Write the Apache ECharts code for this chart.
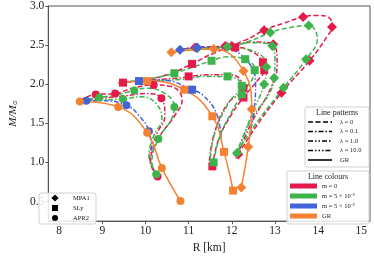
<!DOCTYPE html>
<html><head><meta charset="utf-8">
<script src="https://cdn.jsdelivr.net/npm/echarts@6/dist/echarts.min.js"></script>
<style>html,body{margin:0;padding:0;background:#fff}#c{width:374px;height:259px}</style>
</head><body><div id="c"></div>
<script>
// ---- tick labels ----
const xTicks = [8, 9, 10, 11, 12, 13, 14, 15];
const yTicks = [0.5, 1.0, 1.5, 2.0, 2.5, 3.0];

// ---- MPA1 (diamonds) ----
const mpa1_gr = [[12.22,0.68],[12.38,1.20],[12.46,1.68],[12.27,2.17],[11.58,2.45],[10.60,2.41]];
const mpa1_gr_mk = [[12.22,0.68],[12.38,1.20],[12.46,1.68],[12.27,2.17],[11.58,2.45],[10.60,2.41]];
const mpa1_blue = [[12.40,1.30],[12.52,1.70],[12.55,2.00],[12.35,2.30],[11.80,2.46],[11.20,2.47],[10.80,2.44]];
const mpa1_blue_mk = [[11.20,2.47],[10.80,2.44]];
const mpa1_red0 = [[12.15,1.10],[12.55,1.45],[13.15,1.89],[13.80,2.30],[14.22,2.62],[14.32,2.73],[14.25,2.85],[14.00,2.88],[13.65,2.86],[13.20,2.78],[12.75,2.69],[12.30,2.56],[11.85,2.49],[11.15,2.47],[10.70,2.43]];
const mpa1_red0_mk = [[12.15,1.10],[13.15,1.89],[13.80,2.30],[14.32,2.73],[13.65,2.86],[12.75,2.69],[11.85,2.49],[11.15,2.47]];
const mpa1_green0 = [[12.12,1.12],[12.50,1.45],[13.20,1.955],[13.72,2.32],[13.98,2.58],[13.78,2.75],[13.30,2.72],[12.89,2.66],[12.40,2.55],[11.90,2.48],[11.20,2.46],[10.70,2.44]];
const mpa1_green0_mk = [[12.12,1.12],[13.20,1.955],[13.72,2.32],[13.78,2.75],[12.89,2.66],[11.90,2.48],[11.20,2.46]];
const mpa1_red1 = [[12.10,1.05],[12.45,1.50],[12.90,1.95],[13.05,2.25],[12.96,2.51],[12.50,2.54],[12.00,2.49],[11.40,2.46]];
const mpa1_red1_mk = [[12.96,2.51],[12.00,2.49]];
const mpa1_green1 = [[12.08,1.08],[12.40,1.50],[12.98,2.08],[13.00,2.30],[12.94,2.49],[12.45,2.53],[11.95,2.48],[11.40,2.46]];
const mpa1_green1_mk = [[12.98,2.08],[12.94,2.49]];
const mpa1_green2 = [[12.15,1.15],[12.45,1.60],[12.75,2.00],[12.80,2.22],[12.60,2.40],[12.00,2.47]];
const mpa1_green2_mk = [[12.75,2.00],[12.80,2.22]];

// ---- SLy (squares) ----
const sly_gr = [[12.03,0.64],[11.82,1.135],[11.55,1.59],[10.90,1.93],[10.04,2.04],[9.36,2.02]];
const sly_gr_mk = [[12.03,0.64],[11.82,1.135],[11.55,1.59],[10.90,1.93],[10.04,2.04]];
const sly_blue = [[11.75,1.30],[11.65,1.62],[11.35,1.85],[11.08,1.93],[10.40,2.05],[9.85,2.04],[9.50,2.03]];
const sly_blue_mk = [[11.08,1.93],[9.85,2.04]];
const sly_red0 = [[11.55,0.95],[11.70,1.30],[12.00,1.62],[12.27,1.83],[12.60,2.05],[12.75,2.18],[12.72,2.28],[12.45,2.42],[12.08,2.47],[11.60,2.40],[11.08,2.26],[10.50,2.12],[9.90,2.05],[9.48,2.02]];
const sly_red0_mk = [[11.55,0.95],[12.27,1.83],[12.75,2.18],[12.72,2.28],[12.08,2.47],[11.08,2.26],[9.48,2.02]];
const sly_green0 = [[11.58,1.00],[11.72,1.33],[12.00,1.65],[12.23,1.87],[12.53,2.18],[12.31,2.32],[11.90,2.35],[11.53,2.30],[11.00,2.20],[10.67,2.14],[10.10,2.07],[9.50,2.03]];
const sly_green0_mk = [[11.58,1.00],[12.23,1.87],[12.53,2.18],[12.31,2.32],[11.53,2.30],[10.67,2.14]];
const sly_red1 = [[11.48,1.02],[11.60,1.38],[11.90,1.75],[12.27,1.95],[12.00,2.12],[11.45,2.12],[10.80,2.08],[10.00,2.05]];
const sly_red1_mk = [[12.27,1.95],[11.00,2.10]];
const sly_green1 = [[11.50,1.05],[11.62,1.40],[11.95,1.78],[12.23,1.98],[11.90,2.10],[11.40,2.10],[10.80,2.06],[10.00,2.04]];
const sly_green1_mk = [[12.23,1.98],[11.90,2.10]];

// ---- APR2 (circles) ----
const apr2_gr = [[10.81,0.507],[10.38,0.93],[10.04,1.38],[9.37,1.71],[8.48,1.78]];
const apr2_gr_mk = [[10.81,0.507],[10.38,0.93],[10.04,1.38],[9.37,1.71],[8.48,1.78]];
const apr2_blue = [[10.15,1.15],[10.08,1.40],[9.85,1.60],[9.56,1.73],[9.00,1.79],[8.63,1.79]];
const apr2_blue_mk = [[10.08,1.40],[9.56,1.73],[8.63,1.79]];
const apr2_red0 = [[10.28,0.82],[10.12,1.00],[10.32,1.32],[10.68,1.60],[10.85,1.80],[10.60,1.97],[10.19,1.99],[9.70,1.95],[9.30,1.88],[8.85,1.87],[8.50,1.80]];
const apr2_red0_mk = [[10.28,0.82],[10.19,1.99],[9.30,1.88],[8.85,1.87]];
const apr2_green0 = [[10.25,0.85],[10.15,1.00],[10.30,1.30],[10.60,1.55],[10.67,1.71],[10.45,1.88],[10.00,1.95],[9.74,1.92],[9.30,1.86],[8.93,1.83],[8.50,1.79]];
const apr2_green0_mk = [[10.25,0.85],[10.30,1.30],[10.67,1.71],[9.74,1.92],[8.93,1.83]];
const apr2_red1 = [[10.20,0.90],[10.10,1.05],[10.25,1.35],[10.45,1.60],[10.37,1.82],[10.00,1.88],[9.52,1.85],[9.00,1.82],[8.55,1.79]];
const apr2_red1_mk = [[10.37,1.82]];
const apr2_green1 = [[10.18,0.92],[10.08,1.08],[10.20,1.35],[10.38,1.55],[10.25,1.75],[9.90,1.84],[9.48,1.81],[9.00,1.80],[8.55,1.79]];
const apr2_green1_mk = [[9.48,1.81]];

// ---- styles ----
const C = {red:'#e6194b', green:'#3cb44b', blue:'#4363d8', orange:'#f58231'};
const DASH = {l0:[5,2.5], l01:[5,2,1.5,2], l1:[5,2,1.5,2,1.5,2], l10:[5,2,1.5,2,1.5,2,1.5,2], gr:'solid'};
const SYM = {mpa1:['diamond',10], sly:['rect',8], apr2:['circle',8]};

const series = [];
function add(line, marks, color, dash, eos) {
  series.push({type:'line', data:line, smooth:0.45, showSymbol:false, symbol:'none',
    lineStyle:{color:color, width:1.5, type:dash}, z:2, silent:true, animation:false});
  series.push({type:'scatter', data:marks, symbol:SYM[eos][0], symbolSize:SYM[eos][1],
    itemStyle:{color:color, opacity:1}, z:3, silent:true, animation:false});
}
// red, then green, then blue, then orange (drawing order)
add(mpa1_red0, mpa1_red0_mk, C.red, DASH.l0, 'mpa1');
add(mpa1_red1, mpa1_red1_mk, C.red, DASH.l01, 'mpa1');
add(sly_red0, sly_red0_mk, C.red, DASH.l0, 'sly');
add(sly_red1, sly_red1_mk, C.red, DASH.l01, 'sly');
add(apr2_red0, apr2_red0_mk, C.red, DASH.l0, 'apr2');
add(apr2_red1, apr2_red1_mk, C.red, DASH.l01, 'apr2');
add(mpa1_green0, mpa1_green0_mk, C.green, DASH.l0, 'mpa1');
add(mpa1_green1, mpa1_green1_mk, C.green, DASH.l01, 'mpa1');
add(mpa1_green2, mpa1_green2_mk, C.green, DASH.l1, 'mpa1');
add(sly_green0, sly_green0_mk, C.green, DASH.l0, 'sly');
add(sly_green1, sly_green1_mk, C.green, DASH.l01, 'sly');
add(apr2_green0, apr2_green0_mk, C.green, DASH.l0, 'apr2');
add(apr2_green1, apr2_green1_mk, C.green, DASH.l01, 'apr2');
add(mpa1_blue, mpa1_blue_mk, C.blue, DASH.l01, 'mpa1');
add(sly_blue, sly_blue_mk, C.blue, DASH.l01, 'sly');
add(apr2_blue, apr2_blue_mk, C.blue, DASH.l01, 'apr2');
add(mpa1_gr, mpa1_gr_mk, C.orange, DASH.gr, 'mpa1');
add(sly_gr, sly_gr_mk, C.orange, DASH.gr, 'sly');
add(apr2_gr, apr2_gr_mk, C.orange, DASH.gr, 'apr2');

const FONT = 'Liberation Serif';
const axisCol = '#555';
const g = [];
function box(x, y, w, h) {
  g.push({type:'rect', shape:{x:x, y:y, width:w, height:h, r:2}, style:{fill:'rgba(255,255,255,0.85)', stroke:'#d0d0d0', lineWidth:1}, z:50});
}
function txt(x, y, s, size, align) {
  g.push({type:'text', x:x, y:y, style:{text:s, fontFamily:FONT, fontSize:size, fill:'#222', align:align||'left', verticalAlign:'middle'}, z:52});
}
// Line patterns legend
box(305, 107, 64, 60);
txt(337, 112.5, 'Line patterns', 8, 'center');
const patRows = [['λ = 0', DASH.l0], ['λ = 0.1', DASH.l01], ['λ = 1.0', DASH.l1], ['λ = 10.0', DASH.l10], ['GR', 'solid']];
patRows.forEach((r, i) => {
  const y = 122 + i * 9.5;
  g.push({type:'line', shape:{x1:308, y1:y, x2:332, y2:y}, style:{stroke:'#000', lineWidth:1.6, lineDash: r[1]==='solid'?null:r[1]}, z:51});
  txt(340, y, r[0], 6.5);
});
// Line colours legend
box(287, 171, 82, 53);
txt(328, 177, 'Line colours', 8, 'center');
const colRows = [['m = 0', C.red], ['m = 5 × 10⁻³', C.green], ['m = 5 × 10⁻²', C.blue], ['GR', C.orange]];
colRows.forEach((r, i) => {
  const y = 186 + i * 10;
  g.push({type:'rect', shape:{x:290, y:y-2.5, width:27, height:5}, style:{fill:r[1]}, z:51});
  txt(322, y, r[0], 6.5);
});
// Marker legend
box(39, 193, 57, 31);
const mkRows = [['MPA1', 'diamond'], ['SLy', 'square'], ['APR2', 'circle']];
mkRows.forEach((r, i) => {
  const y = 198 + i * 10;
  if (r[1] === 'diamond') g.push({type:'polygon', shape:{points:[[55,y-3.6],[58.6,y],[55,y+3.6],[51.4,y]]}, style:{fill:'#000'}, z:51});
  if (r[1] === 'square') g.push({type:'rect', shape:{x:52, y:y-3, width:6, height:6}, style:{fill:'#000'}, z:51});
  if (r[1] === 'circle') g.push({type:'circle', shape:{cx:55, cy:y, r:3}, style:{fill:'#000'}, z:51});
  txt(73, y, r[0], 6.5);
});

const chart = echarts.init(document.getElementById('c'), null, {renderer:'canvas'});
chart.setOption({
  animation:false,
  backgroundColor:'#fff',
  grid:{left:36, right:4, top:5, bottom:30, show:true, borderColor:axisCol, borderWidth:1, backgroundColor:'transparent'},
  xAxis:{type:'value', min:7.75, max:15.2, name:'R [km]', nameLocation:'middle', nameGap:18,
    nameTextStyle:{fontFamily:FONT, fontSize:11.5, color:'#222'},
    axisLine:{show:true, lineStyle:{color:axisCol}}, splitLine:{show:false},
    axisTick:{show:true, inside:false, length:3, customValues:xTicks, lineStyle:{color:axisCol}},
    axisLabel:{customValues:xTicks, fontFamily:FONT, fontSize:11.5, color:'#222', margin:4, formatter:v=>String(v)}},
  yAxis:{type:'value', min:0.25, max:3.0, name:'{a|M/M}{b|⊙}', nameLocation:'middle', nameGap:24, nameRotate:90,
    nameTextStyle:{rich:{a:{fontFamily:FONT, fontSize:11, fontStyle:'italic', color:'#222'}, b:{fontFamily:'DejaVu Sans', fontSize:6, color:'#222', padding:[4,0,0,0]}}},
    axisLine:{show:true, lineStyle:{color:axisCol}}, splitLine:{show:false},
    axisTick:{show:true, inside:false, length:3, customValues:yTicks, lineStyle:{color:axisCol}},
    axisLabel:{customValues:yTicks, fontFamily:FONT, fontSize:11.5, color:'#222', margin:4, formatter:v=>v.toFixed(1)}},
  series:series,
  graphic:g
});
</script></body></html>
